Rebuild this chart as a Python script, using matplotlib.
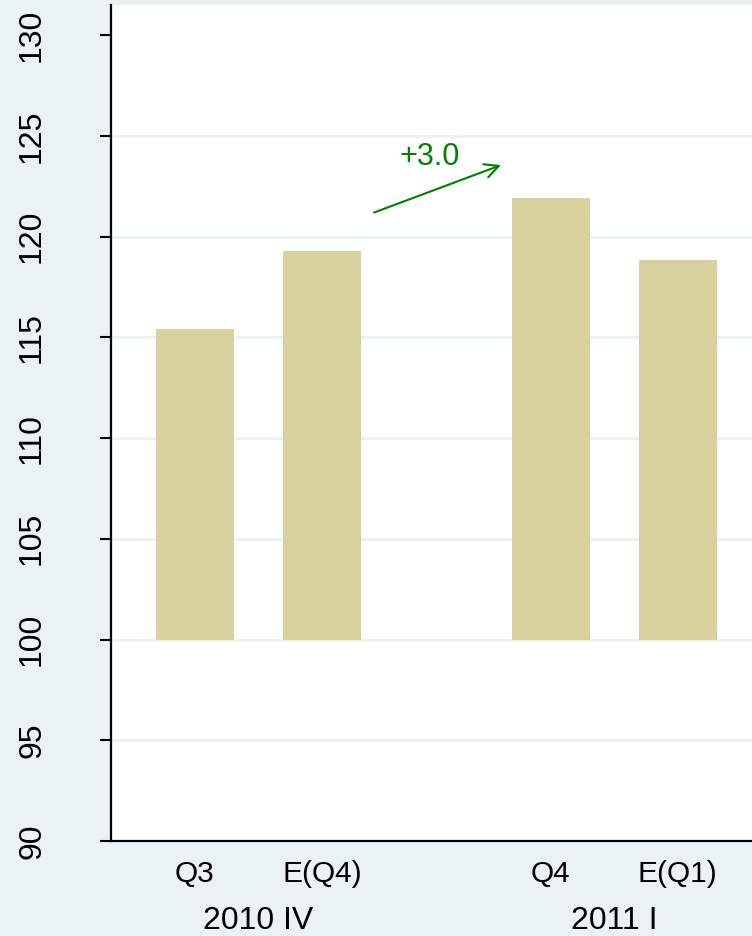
import matplotlib.pyplot as plt

# bar data (index values, base 100)
labels = ['Q3', 'E(Q4)', 'Q4', 'E(Q1)']
values = [115.4, 119.3, 121.9, 118.85]
positions = [0, 1, 2.8, 3.8]
groups = ['2010 IV', '2011 I']
group_pos = [0.5, 3.3]
base = 100
yticks = [90, 95, 100, 105, 110, 115, 120, 125, 130]

# arrow annotation
arrow_from = (1.39, 121.15)
arrow_to = (2.43, 123.6)
arrow_text = '+3.0'
text_pos = (1.85, 123.95)

bg = '#eaf2f3'
bar_color = '#d8d29e'
green = '#008000'

plt.rcParams['font.family'] = ['Liberation Sans', 'DejaVu Sans']

fig = plt.figure(figsize=(7.52, 9.36), dpi=100, facecolor=bg)
ax = fig.add_axes([111 / 752, 1 - 841 / 936, 1 - 111 / 752, (841 - 5) / 936])
ax.set_facecolor('white')

heights = [v - base for v in values]
ax.bar(positions, heights, bottom=base, width=0.614, color=bar_color, zorder=2)

# horizontal grid lines, not at the extremes
for t in yticks[1:-1]:
    ax.axhline(t, color=bg, lw=2, zorder=1)

ax.set_ylim(90, 131.5)
ax.set_xlim(-0.661, 4.386)
ax.set_yticks(yticks)
ax.set_yticklabels([str(t) for t in yticks], rotation=90, va='center', fontsize=23)
ax.tick_params(axis='y', length=8, width=1.5, pad=38, colors='black')
ax.set_xticks(positions)
ax.set_xticklabels(labels, fontsize=21.5)
ax.tick_params(axis='x', length=0, pad=14)

for g, gp in zip(groups, group_pos):
    ax.text(gp, -0.0955, g, transform=ax.get_xaxis_transform(), ha='center',
            va='center', fontsize=23)

for s in ['top', 'right']:
    ax.spines[s].set_visible(False)
for s in ['left', 'bottom']:
    ax.spines[s].set_linewidth(1.6)
    ax.spines[s].set_color('black')

ax.annotate('', xy=arrow_to, xytext=arrow_from,
            arrowprops=dict(arrowstyle='->', color=green, lw=1.5,
                            mutation_scale=25))
ax.text(text_pos[0], text_pos[1], arrow_text, color=green, fontsize=22,
        ha='center', va='center')

fig.savefig('out.png', dpi=100, facecolor=bg)
